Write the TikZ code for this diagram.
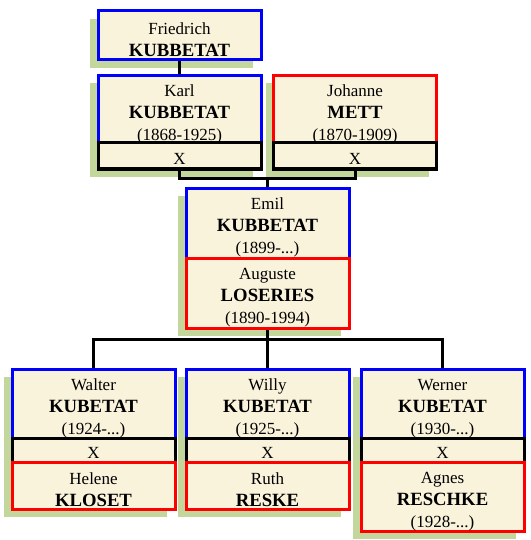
\documentclass[tikz,border=0pt]{standalone}
\usepackage{fontspec}
\setmainfont{Liberation Serif}
\usetikzlibrary{shadows}
\definecolor{boxcream}{HTML}{FAF3DC}
\definecolor{shadegreen}{HTML}{C3D69B}
\definecolor{manblue}{HTML}{0000FF}
\definecolor{womanred}{HTML}{FF0000}
\newcommand\given[1]{\rule{0pt}{21pt}#1}
\newcommand\famname[1]{{\fontsize{18.7}{22}\selectfont\bfseries #1}}

\begin{document}
\begin{tikzpicture}[x=1pt, y=-1pt,
  card/.style={fill=boxcream, line width=3pt, minimum width=163pt, inner sep=0pt,
    align=center, font=\fontsize{17}{22}\selectfont,
    drop shadow={shadow xshift=-8pt, shadow yshift=-8pt, fill=shadegreen, opacity=1}},
  man/.style={card, draw=manblue},
  woman/.style={card, draw=womanred},
  wed/.style={card, draw=black, text height=17pt, text depth=0pt},
  link/.style={line width=3pt}]
  \useasboundingbox (0,0) rectangle (530,540);
  % grandparents
  \node [man, minimum height=49pt] (friedrich) at (179.5, 35.5) {\given{Friedrich}\\\famname{KUBBETAT}};
  \node [man, minimum height=67pt] (karl) at (179.5, 109.5) {\given{Karl}\\\famname{KUBBETAT}\\(1868-1925)};
  \node [wed, minimum height=26pt] (karlx) at (179.5, 156) {X};
  \node [woman, minimum height=67pt] (johanne) at (355, 109.5) {\given{Johanne}\\\famname{METT}\\(1870-1909)};
  \node [wed, minimum height=26pt] (johannex) at (355, 156) {X};
  \draw [link] (friedrich) to (karl);
  \coordinate (m1) at (267.5, 178);
  \draw [link] (karlx.south) |- (m1) -| (johannex.south);
  % parents
  \node [man, minimum height=70pt] (emil) at (267.5, 223) {\given{Emil}\\\famname{KUBBETAT}\\(1899-...)};
  \node [woman, minimum height=70pt] (auguste) at (267.5, 293) {\given{Auguste}\\\famname{LOSERIES}\\(1890-1994)};
  \draw [link] (m1) to (emil.north);
  % children
  \node [man, minimum height=69pt] (walter) at (93.5, 403.5) {\given{Walter}\\\famname{KUBETAT}\\(1924-...)};
  \node [wed, minimum height=24pt] (walterx) at (93.5, 450) {X};
  \node [woman, minimum height=47pt] (helene) at (93.5, 485.5) {\given{Helene}\\\famname{KLOSET}};
  \node [man, minimum height=69pt] (willy) at (267.5, 403.5) {\given{Willy}\\\famname{KUBETAT}\\(1925-...)};
  \node [wed, minimum height=24pt] (willyx) at (267.5, 450) {X};
  \node [woman, minimum height=47pt] (ruth) at (267.5, 485.5) {\given{Ruth}\\\famname{RESKE}};
  \node [man, minimum height=69pt] (werner) at (442.5, 403.5) {\given{Werner}\\\famname{KUBETAT}\\(1930-...)};
  \node [wed, minimum height=24pt] (wernerx) at (442.5, 450) {X};
  \node [woman, minimum height=69pt] (agnes) at (442.5, 496.5) {\given{Agnes}\\\famname{RESCHKE}\\(1928-...)};
  \coordinate (m2) at (267.5, 339);
  \draw [link] (auguste.south) to (m2);
  \draw [link] (walter.north) |- (m2) -| (werner.north);
  \draw [link] (m2) to (willy.north);
\end{tikzpicture}
\end{document}
